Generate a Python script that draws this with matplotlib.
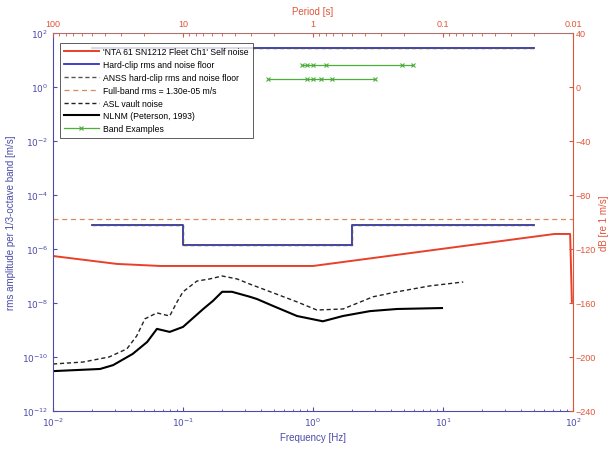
import matplotlib
matplotlib.use("Agg")
import matplotlib.pyplot as plt
from matplotlib.ticker import FixedLocator, NullLocator, LogLocator, FixedFormatter

plt.rcParams['font.family'] = ['Liberation Sans', 'DejaVu Sans']

# ---------------- data ----------------
# Self noise (red)
self_f = [0.01, 0.031, 0.067, 1.0, 72, 95, 98]
self_a = [5.5e-7, 2.8e-7, 2.35e-7, 2.35e-7, 3.6e-6, 3.6e-6, 1.1e-8]

# Hard-clip rms (upper) and noise floor (lower step)
clip_rms_f = [0.02, 50]
clip_rms_a = [28, 28]
floor_f = [0.02, 0.1, 2.0, 50]
floor_a = [7.7e-6, 1.4e-6, 7.7e-6, 7.7e-6]

# Full-band rms
fullband_f = [0.01, 100]
fullband_a = [1.3e-5, 1.3e-5]

# ASL vault noise (dashed black)
asl_f = [0.01, 0.017, 0.027, 0.037, 0.044, 0.051, 0.063, 0.079, 0.090, 0.1,
         0.128, 0.161, 0.2, 0.26, 0.327, 0.412, 0.753, 1.07, 1.70, 2.90,
         4.43, 7.94, 14.3]
asl_a = [5.5e-11, 6.5e-11, 1.0e-10, 2.0e-10, 6.0e-10, 2.6e-9, 4.3e-9, 3.3e-9,
         1.1e-8, 2.6e-8, 6.5e-8, 7.8e-8, 1.0e-7, 7.8e-8, 5.0e-8, 3.3e-8,
         1.1e-8, 5.5e-9, 6.0e-9, 1.7e-8, 2.6e-8, 4.3e-8, 6.0e-8]

# NLNM (solid black)
nlnm_f = [0.01, 0.023, 0.029, 0.041, 0.053, 0.063, 0.079, 0.1, 0.143, 0.17,
          0.2, 0.238, 0.327, 0.371, 0.492, 0.753, 1.19, 1.70, 2.74, 4.43, 9.82]
nlnm_a = [3.0e-11, 3.6e-11, 5.0e-11, 1.3e-10, 3.6e-10, 1.1e-9, 8.5e-10, 1.3e-9,
          6.0e-9, 1.2e-8, 2.6e-8, 2.6e-8, 1.7e-8, 1.4e-8, 7.8e-9, 3.3e-9,
          2.1e-9, 3.3e-9, 5.0e-9, 6.0e-9, 6.5e-9]

# Band examples (green)
band1_f = [0.82, 0.9, 1.0, 1.25, 4.8, 5.9]
band1_a = [6.5, 6.5, 6.5, 6.5, 6.5, 6.5]
band2_f = [0.45, 0.9, 1.0, 1.15, 1.4, 3.0]
band2_a = [2.0, 2.0, 2.0, 2.0, 2.0, 2.0]

labels = ["'NTA 61 SN1212 Fleet Ch1' Self noise",
          "Hard-clip rms and noise floor",
          "ANSS hard-clip rms and noise floor",
          "Full-band rms = 1.30e-05 m/s",
          "ASL vault noise",
          "NLNM (Peterson, 1993)",
          "Band Examples"]

x_ticks = [0.01, 0.1, 1, 10, 100]
x_ticklabels = ['$10^{-2}$', '$10^{-1}$', '$10^{0}$', '$10^{1}$', '$10^{2}$']
y_ticks = [1e-12, 1e-10, 1e-8, 1e-6, 1e-4, 1e-2, 1e0, 1e2]
y_ticklabels = ['$10^{-12}$', '$10^{-10}$', '$10^{-8}$', '$10^{-6}$',
                '$10^{-4}$', '$10^{-2}$', '$10^{0}$', '$10^{2}$']
db_ticks = [-240, -200, -160, -120, -80, -40, 0, 40]
period_ticks = [100, 10, 1, 0.1, 0.01]
period_ticklabels = ['100', '10', '1', '0.1', '0.01']

# ---------------- style ----------------
BLUE = '#4b4bab'
RED = '#e0553a'
fs = 6.5

fig = plt.figure(figsize=(6.1, 4.52), dpi=100)
ax = fig.add_axes([0.0869, 0.0885, 0.8525, 0.8363])
ax.set_xscale('log')
ax.set_yscale('log')
ax.set_xlim(0.01, 100)
ax.set_ylim(1e-12, 1e2)

h_self, = ax.plot(self_f, self_a, color='#e8402a', lw=1.4)
h_clip, = ax.plot(clip_rms_f, clip_rms_a, color='#3030c0', lw=1.3)
ax.plot(floor_f, floor_a, color='#3030c0', lw=1.3, drawstyle='steps-post')
h_anss, = ax.plot(clip_rms_f, clip_rms_a, color='#555555', lw=1.0, ls=(0, (3, 2)))
ax.plot(floor_f, floor_a, color='#555555', lw=1.0, ls=(0, (3, 2)), drawstyle='steps-post')
h_full, = ax.plot(fullband_f, fullband_a, color='#d98a5a', lw=0.9, ls=(0, (4, 3)))
h_asl, = ax.plot(asl_f, asl_a, color='#222222', lw=1.0, ls=(0, (3, 2)))
h_nlnm, = ax.plot(nlnm_f, nlnm_a, color='black', lw=1.5)
h_band, = ax.plot(band1_f, band1_a, color='#4caf3a', lw=0.9, marker='x', ms=3, mew=0.8)
ax.plot(band2_f, band2_a, color='#4caf3a', lw=0.9, marker='x', ms=3, mew=0.8)

ax.xaxis.set_major_locator(FixedLocator(x_ticks))
ax.xaxis.set_major_formatter(FixedFormatter(x_ticklabels))
ax.xaxis.set_minor_locator(LogLocator(base=10, subs=range(2, 10), numticks=20))
ax.yaxis.set_major_locator(FixedLocator(y_ticks))
ax.yaxis.set_major_formatter(FixedFormatter(y_ticklabels))
ax.yaxis.set_minor_locator(NullLocator())
ax.tick_params(axis='both', which='both', direction='in', colors=BLUE,
               labelsize=fs, top=False, right=False)
ax.tick_params(which='major', length=3)
ax.tick_params(which='minor', length=1.8)
ax.spines['left'].set_color(BLUE)
ax.spines['bottom'].set_color(BLUE)
ax.spines['top'].set_visible(False)
ax.spines['right'].set_visible(False)
ax.set_xlabel('Frequency [Hz]', color=BLUE, fontsize=7, labelpad=3)
ax.set_ylabel('rms amplitude per 1/3-octave band [m/s]', color=BLUE, fontsize=7, labelpad=4)

# right dB axis
ax2 = ax.twinx()
ax2.set_ylim(-240, 40)
ax2.yaxis.set_major_locator(FixedLocator(db_ticks))
ax2.tick_params(axis='y', direction='in', colors=RED, labelsize=fs, length=3, pad=2)
for s in ['left', 'bottom', 'top']:
    ax2.spines[s].set_visible(False)
ax2.spines['right'].set_color(RED)
ax2.set_ylabel('dB [re 1 m/s]', color=RED, fontsize=7, labelpad=2)

# top period axis
ax3 = ax.twiny()
ax3.set_xscale('log')
ax3.set_xlim(100, 0.01)
ax3.xaxis.set_major_locator(FixedLocator(period_ticks))
ax3.xaxis.set_major_formatter(FixedFormatter(period_ticklabels))
ax3.xaxis.set_minor_locator(LogLocator(base=10, subs=range(2, 10), numticks=20))
ax3.tick_params(axis='x', which='both', direction='in', colors=RED, labelsize=fs)
ax3.tick_params(which='major', length=3)
ax3.tick_params(which='minor', length=1.8)
for s in ['left', 'bottom', 'right']:
    ax3.spines[s].set_visible(False)
ax3.spines['top'].set_color('#b07070')
ax3.set_xlabel('Period [s]', color=RED, fontsize=7, labelpad=4)

leg = ax3.legend([h_self, h_clip, h_anss, h_full, h_asl, h_nlnm, h_band], labels,
                 loc='upper left', bbox_to_anchor=(0.013, 0.974), fontsize=6.2,
                 frameon=True, fancybox=False, edgecolor='#333333',
                 handlelength=4.0, labelspacing=0.45, borderpad=0.5,
                 handletextpad=0.5, borderaxespad=0)
leg.get_frame().set_linewidth(0.7)

fig.savefig('out.png', dpi=100)
